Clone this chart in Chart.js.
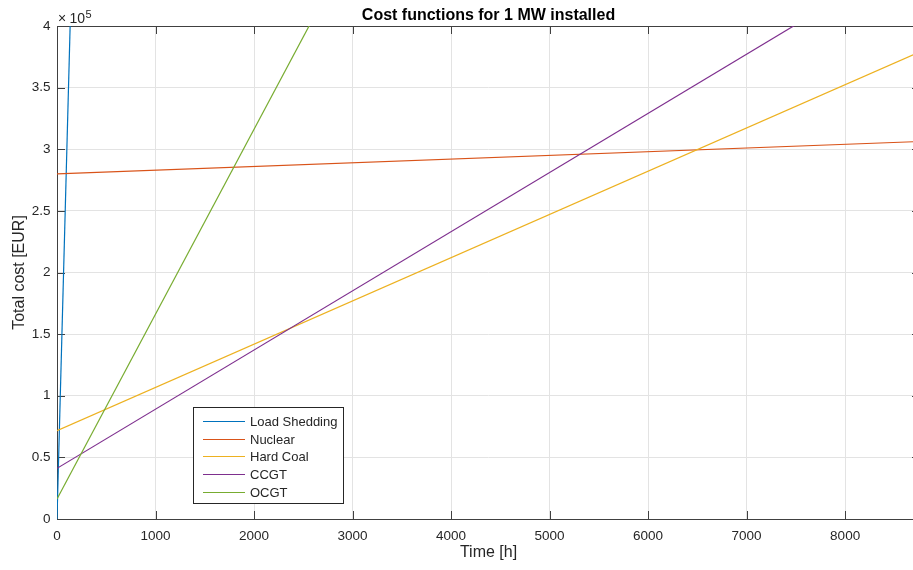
<!DOCTYPE html>
<html>
<head>
<meta charset="utf-8">
<title>Cost functions for 1 MW installed</title>
<script src="https://cdn.jsdelivr.net/npm/chart.js@4.4.0/dist/chart.umd.min.js"></script>
<style>
  html, body { margin: 0; padding: 0; background: #fff; overflow: hidden; }
  #wrap { width: 913px; height: 570px; overflow: hidden; }
  canvas { display: block; }
</style>
</head>
<body>
<div id="wrap"><canvas id="costChart" width="921" height="570"></canvas></div>
<script>
// hours of the year, cost lines are straight so two ends per series
const hours = [0, 8760];
const loadShedding = [0, 26280000];
const nuclear = [280000, 306300];
const hardCoal = [71600, 379000];
const ccgt = [41100, 461600];
const ocgt = [16200, 1330200];

const seriesNames = ['Load Shedding', 'Nuclear', 'Hard Coal', 'CCGT', 'OCGT'];
const seriesValues = [loadShedding, nuclear, hardCoal, ccgt, ocgt];
const seriesColors = ['#0072BD', '#D95319', '#EDB120', '#7E2F8E', '#77AC30'];

const xTicks = [0, 1000, 2000, 3000, 4000, 5000, 6000, 7000, 8000];
const yTicks = [0, 50000, 100000, 150000, 200000, 250000, 300000, 350000, 400000];

const FONT = '"Liberation Sans", Arial, Helvetica, sans-serif';
const AXIS_COLOR = '#404040';
const TEXT_COLOR = '#262626';

// MATLAB-like box, inward ticks, legend and exponent label
const matlabAxes = {
    id: 'matlabAxes',
    beforeDatasetsDraw(chart) {
        const { ctx, chartArea: a, scales } = chart;
        ctx.save();
        ctx.strokeStyle = AXIS_COLOR;
        ctx.lineWidth = 1;
        ctx.beginPath();
        xTicks.forEach(v => {
            const px = Math.round(scales.x.getPixelForValue(v)) + 0.5;
            ctx.moveTo(px, a.bottom); ctx.lineTo(px, a.bottom - 8);
            ctx.moveTo(px, a.top); ctx.lineTo(px, a.top + 8);
        });
        yTicks.forEach(v => {
            const py = Math.round(scales.y.getPixelForValue(v)) + 0.5;
            ctx.moveTo(a.left, py); ctx.lineTo(a.left + 8, py);
            ctx.moveTo(a.right, py); ctx.lineTo(a.right - 8, py);
        });
        ctx.stroke();
        ctx.beginPath();
        ctx.rect(Math.round(a.left) + 0.5, Math.round(a.top) + 0.5,
                 Math.round(a.right - a.left), Math.round(a.bottom - a.top));
        ctx.stroke();
        ctx.restore();
    },
    afterDraw(chart) {
        const { ctx } = chart;
        ctx.save();

        // x10^5 multiplier
        ctx.fillStyle = TEXT_COLOR;
        ctx.textBaseline = 'alphabetic';
        ctx.textAlign = 'left';
        ctx.font = '14px ' + FONT;
        ctx.fillText('\u00d7', 58, 23);
        ctx.fillText('10', 69.5, 23);
        ctx.font = '11px ' + FONT;
        ctx.fillText('5', 85.5, 18);

        // legend box
        const lx = 193, ly = 407, lw = 150, lh = 96;
        ctx.fillStyle = '#ffffff';
        ctx.fillRect(lx, ly, lw, lh);
        ctx.strokeStyle = TEXT_COLOR;
        ctx.lineWidth = 1;
        ctx.strokeRect(lx + 0.5, ly + 0.5, lw, lh);
        ctx.font = '13px ' + FONT;
        ctx.textBaseline = 'middle';
        seriesNames.forEach((name, i) => {
            const y = Math.round(ly + 13.7 + i * 17.8);
            ctx.fillStyle = seriesColors[i];
            ctx.fillRect(203, y, 42, 1);
            ctx.fillStyle = TEXT_COLOR;
            ctx.fillText(name, 250, y + 1);
        });
        ctx.restore();
    }
};

const ctx = document.getElementById('costChart').getContext('2d');
new Chart(ctx, {
    type: 'line',
    data: {
        datasets: seriesNames.map((name, i) => ({
            label: name,
            data: hours.map((h, j) => ({ x: h, y: seriesValues[i][j] })),
            borderColor: seriesColors[i],
            backgroundColor: seriesColors[i],
            borderWidth: 1.2,
            pointRadius: 0,
            tension: 0,
            fill: false,
            order: seriesNames.length - i
        }))
    },
    options: {
        responsive: false,
        animation: false,
        devicePixelRatio: 1,
        layout: { padding: { top: 0, right: 1, bottom: 0, left: 0 } },
        plugins: {
            legend: { display: false },
            tooltip: { enabled: false },
            title: {
                display: true,
                text: 'Cost functions for 1 MW installed',
                color: '#000',
                fullSize: false,
                font: { family: FONT, size: 16, weight: 'bold', lineHeight: 1.2 },
                padding: { top: 6.2, bottom: 0.6 }
            }
        },
        scales: {
            x: {
                type: 'linear',
                min: 0,
                max: 8760,
                afterBuildTicks: s => { s.ticks = xTicks.map(v => ({ value: v })); },
                afterFit: s => { s.height = 51; },
                ticks: {
                    color: TEXT_COLOR,
                    font: { family: FONT, size: 13.5 },
                    padding: 9.5,
                    maxRotation: 0,
                    callback: v => String(v)
                },
                grid: { color: '#e3e3e3', drawTicks: false },
                border: { display: false },
                title: {
                    display: true,
                    text: 'Time [h]',
                    color: TEXT_COLOR,
                    font: { family: FONT, size: 16 },
                    padding: { top: 0, bottom: 7.4 }
                }
            },
            y: {
                type: 'linear',
                min: 0,
                max: 400000,
                afterBuildTicks: s => { s.ticks = yTicks.map(v => ({ value: v })); },
                afterFit: s => { s.width = 57; },
                ticks: {
                    color: TEXT_COLOR,
                    font: { family: FONT, size: 13.5 },
                    padding: 6.5,
                    callback: v => String(v / 100000)
                },
                grid: { color: '#e3e3e3', drawTicks: false },
                border: { display: false },
                title: {
                    display: true,
                    text: 'Total cost [EUR]',
                    color: TEXT_COLOR,
                    font: { family: FONT, size: 16 },
                    padding: { top: 10, bottom: 0 }
                }
            }
        }
    },
    plugins: [matlabAxes]
});
</script>
</body>
</html>
